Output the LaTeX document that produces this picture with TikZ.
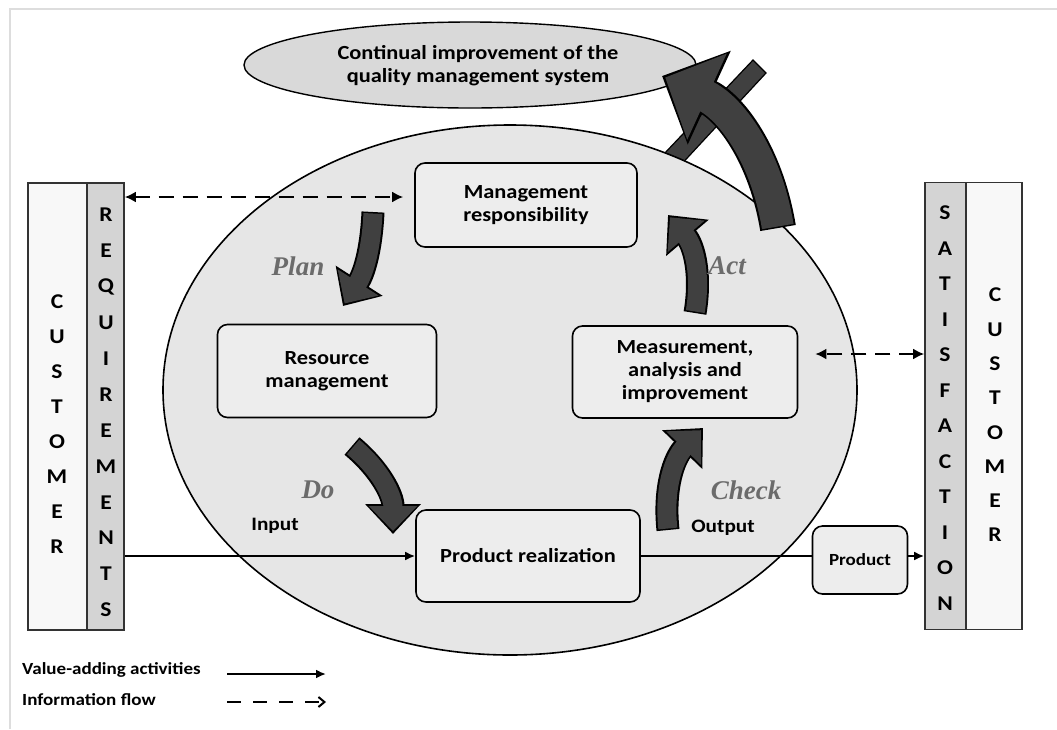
\documentclass[tikz,border=0pt]{standalone}
\usepackage{fontspec}
\setmainfont{Carlito}[FakeStretch=1.12]
\newfontfamily\pdcafont{Liberation Serif}
\usetikzlibrary{arrows.meta,positioning,shapes.geometric}

\definecolor{ringfill}{HTML}{E6E6E6}
\definecolor{topfill}{HTML}{D9D9D9}
\definecolor{boxfill}{HTML}{EDEDED}
\definecolor{reqfill}{HTML}{D4D4D4}
\definecolor{custfill}{HTML}{F8F8F8}
\definecolor{arrowfill}{HTML}{404040}
\definecolor{pdcagray}{HTML}{6B6B6B}
\definecolor{framegray}{HTML}{DDDDDD}

\tikzset{
  procbox/.style={draw, line width=1.6pt, rounded corners=10pt, fill=boxfill, align=center,
    font=\bfseries\fontsize{20}{23}\selectfont, inner sep=0pt},
  column/.style={draw=black!80, line width=1.6pt, minimum height=447pt, inner sep=0pt},
  letter/.style={font=\bfseries\fontsize{21}{21}\selectfont, inner sep=0pt},
  pdcatxt/.style={font=\pdcafont\bfseries\itshape\fontsize{27}{27}\selectfont, text=pdcagray},
  flowtxt/.style={font=\bfseries\fontsize{19}{19}\selectfont},
  legendtxt/.style={font=\bfseries\fontsize{17}{17}\selectfont, anchor=west, inner sep=0pt},
  valueflow/.style={line width=2pt, -{Latex[length=10pt,width=9pt]}},
  infoflow/.style={line width=2.8pt, dash pattern=on 15pt off 9pt, {Latex[length=11pt,width=11pt]}-{Latex[length=11pt,width=11pt]}},
  pdcaout/.style={line width=23pt, draw=black, -{Triangle[length=30pt,width=54pt]}},
  pdcain/.style={line width=19pt, draw=arrowfill, shorten >=3pt, shorten <=1.5pt, -{Triangle[length=25pt,width=47pt]}},
  bigout/.style={line width=36pt, draw=black, -{Triangle[length=52pt,width=100pt]}},
  bigin/.style={line width=32pt, draw=arrowfill, shorten >=3.5pt, shorten <=1.5pt, -{Triangle[length=46pt,width=92pt]}},
}

\begin{document}
\begin{tikzpicture}[x=1pt, y=-1pt]
\useasboundingbox (0,0) rectangle (1057,729);
\fill[white] (0,0) rectangle (1057,729);
\draw[framegray, line width=2pt] (10,729) -- (10,9) -- (1057,9);

\node[draw, ellipse, fill=topfill, line width=1.4pt, minimum width=452pt, minimum height=86pt] (cont) at (470,65) {};
\node[procbox, draw=none, fill=none] (conttxt) at (478,66) {Continual improvement of the\\quality management system};

\filldraw[fill=arrowfill, draw=black, line width=1.2pt] (663,155) -- (677,169) -- (766,73) -- (753,60) -- cycle;

\node[draw, ellipse, fill=ringfill, line width=1.6pt, minimum width=694pt, minimum height=530pt] (qms) at (510,390) {};

\coordinate (bigtail) at (778,228);
\coordinate (bigtip) at (662,76);
\draw[bigout] (bigtail) to[bend right=28] (bigtip);
\draw[bigin] (bigtail) to[bend right=28] (bigtip);

\node[procbox, minimum width=222pt, minimum height=84pt] (mgmt) at (526,205) {Management\\responsibility};
\node[procbox, minimum width=219pt, minimum height=93pt] (res) at (327,371) {Resource\\management};
\node[procbox, minimum width=225pt, minimum height=92pt] (meas) at (685,372) {Measurement,\\analysis and\\improvement};
\node[procbox, minimum width=224pt, minimum height=92pt] (prod) at (528,556) {Product realization};
\node[procbox, font=\bfseries\fontsize{17}{17}\selectfont, minimum width=95pt, minimum height=68pt] (product) at (860,560) {Product};

\node[column, fill=custfill, minimum width=59pt] (custL) at (57.5,406.5) {};
\node[column, fill=reqfill, minimum width=37pt] (req) at (105.5,406.5) {};
\node[column, fill=reqfill, minimum width=41pt] (sat) at (945.5,406) {};
\node[column, fill=custfill, minimum width=56pt] (custR) at (994,406) {};

\foreach \ch [count=\i] in {C,U,S,T,O,M,E,R}
  \node[letter] (cl\i) at (57,302+35*\i-35) {\ch};
\foreach \ch [count=\i] in {R,E,Q,U,I,R,E,M,E,N,T,S}
  \node[letter] (rq\i) at (106,215+35.9*\i-35.9) {\ch};
\foreach \ch [count=\i] in {S,A,T,I,S,F,A,C,T,I,O,N}
  \node[letter] (sf\i) at (945,213+35.5*\i-35.5) {\ch};
\foreach \ch [count=\i] in {C,U,S,T,O,M,E,R}
  \node[letter] (cr\i) at (995,295+34.3*\i-34.3) {\ch};

\coordinate (planA) at (373,212);
\coordinate (planB) at (343,306);
\coordinate (doA) at (352,446);
\coordinate (doB) at (393,534);
\coordinate (chkA) at (668,530);
\coordinate (chkB) at (703,428);
\coordinate (actA) at (695,313);
\coordinate (actB) at (668,215);
\foreach \a/\b/\ang in {planA/planB/15, doA/doB/25, chkA/chkB/25, actA/actB/-25} {
  \draw[pdcaout] (\a) to[bend left=\ang] (\b);
  \draw[pdcain] (\a) to[bend left=\ang] (\b);
}

\node[pdcatxt] (plan) at (298,266) {Plan};
\node[pdcatxt] (act) at (727,266) {Act};
\node[pdcatxt] (do) at (318,490) {Do};
\node[pdcatxt] (check) at (746,490) {Check};

\node[flowtxt] (inlbl) at (275,526) {Input};
\node[flowtxt] (outlbl) at (723,528) {Output};

\draw[valueflow] (req.east |- prod.west) -- (prod.west);
\draw[line width=2pt] (prod.east) -- (product.west |- prod.east);
\draw[valueflow] (product.east |- prod.east) -- (sat.west |- prod.east);

\coordinate (mgmtin) at ([shift={(-11,-8)}]mgmt.west);
\coordinate (measin) at ([shift={(17,-18)}]meas.east);
\draw[infoflow] (req.east |- mgmtin) -- (mgmtin);
\draw[infoflow] (sat.west |- measin) -- (measin);

\node[legendtxt] (lgval) at (22,670) {Value-adding activities};
\node[legendtxt] (lginfo) at (22,700) {Information flow};
\coordinate (lgvalA) at (227,674);
\coordinate (lgvalB) at (326,674);
\coordinate (lginfoA) at (227,702);
\coordinate (lginfoB) at (326,702);
\draw[valueflow] (lgvalA) -- (lgvalB);
\draw[line width=2pt, dash pattern=on 14pt off 12pt, -{Straight Barb[length=6pt,width=10pt]}] (lginfoA) -- (lginfoB);
\end{tikzpicture}
\end{document}
